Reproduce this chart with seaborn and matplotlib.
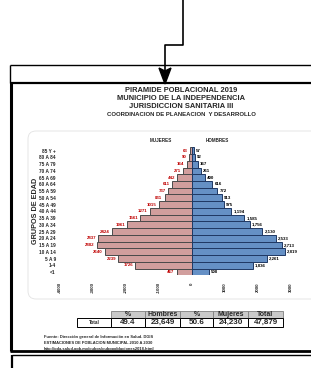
import matplotlib.pyplot as plt
import numpy as np
import pandas as pd
import seaborn as sns
from matplotlib.lines import Line2D
from matplotlib.patches import Rectangle, Polygon, FancyBboxPatch

# datos de la piramide (de arriba hacia abajo)
edades = ["85 Y +", "80 A 84", "75 A 79", "70 A 74", "65 A 69", "60 A 64", "55 A 59",
          "50 A 54", "45 A 49", "40 A 44", "35 A 39", "30 A 34", "25 A 29", "20 A 24",
          "15 A 19", "10 A 14", "5 A 9", "1-4", "<1"]
mujeres = [63, 90, 164, 271, 442, 611, 737, 831, 1015, 1271, 1561, 1961, 2424, 2837,
           2882, 2640, 2239, 1726, 467]
hombres = [57, 92, 167, 261, 400, 616, 772, 913, 975, 1194, 1585, 1756, 2130, 2533,
           2713, 2819, 2261, 1836, 508]
xticks = [-4000, -3000, -2000, -1000, 0, 1000, 2000, 3000]

# tabla resumen
tabla_cols = ["%", "Hombres", "%", "Mujeres", "Total"]
tabla_vals = ["49.4", "23,649", "50.6", "24,230", "47,879"]

titulos = ["PIRAMIDE POBLACIONAL 2019", "MUNICIPIO DE LA INDEPENDENCIA",
           "JURISDICCION SANITARIA III", "COORDINACION DE PLANEACION  Y DESARROLLO"]
notas = ["Fuente: Dirección general de Información en Salud. DGIS",
         "ESTIMACIONES DE POBLACION MUNICIPAL 2010 A 2030",
         "http://pda.salud.gob.mx/cubos/cubopoblaciones2018.html"]

sns.set_style("white")
plt.rcParams['font.family'] = ['Liberation Sans', 'DejaVu Sans']

W, H = 311, 368
fig = plt.figure(figsize=(W / 100, H / 100), dpi=100)
T = fig.dpi_scale_trans


def P(x, y):
    return (x / 100, (H - y) / 100)


def line(xs, ys, lw=1.0, color="black"):
    pts = [P(x, y) for x, y in zip(xs, ys)]
    fig.add_artist(Line2D([p[0] for p in pts], [p[1] for p in pts], lw=lw,
                          color=color, transform=T, solid_capstyle="butt"))


def text(x, y, s, **kw):
    fig.text(*P(x, y), s, transform=T, **kw)


# flecha y marco del diagrama
line([183, 183, 165, 165], [0, 45, 45, 72], lw=1.2)
fig.add_artist(Polygon([P(159, 68), P(165, 71), P(171, 68), P(165, 84)], closed=True,
                       color="black", transform=T))
line([10, 311], [65, 65], lw=1.0)
line([10, 10], [65, 83], lw=1.0)
line([10, 311], [83, 83], lw=1.6)
line([11, 11], [83, 351], lw=2.2)
line([10, 311], [351, 351], lw=2.0)
line([12, 311], [355, 355], lw=1.0)
line([12, 12], [355, 368], lw=1.6)

# titulos
for i, (t, fs) in enumerate(zip(titulos, [5.4, 5.4, 5.4, 4.3])):
    text(181, 90 + i * 8.3, t, ha="center", va="center", fontsize=fs, fontweight="bold")

# panel redondeado
fig.add_artist(FancyBboxPatch(P(28, 299), 3.2, 1.68, boxstyle="round,pad=0,rounding_size=0.08",
                              transform=T, facecolor="white", edgecolor="#E2E2E2", lw=0.6,
                              zorder=-1))

# piramide
df = pd.DataFrame({
    "edad": edades * 2,
    "valor": [-v for v in mujeres] + hombres,
    "sexo": ["MUJERES"] * len(edades) + ["HOMBRES"] * len(edades),
})
ax = fig.add_axes([60 / W, 1 - 275.4 / H, 264 / W, 128.1 / H])
ax.set_zorder(2)
sns.barplot(data=df, y="edad", x="valor", hue="sexo", order=edades, dodge=False, width=1,
            palette={"MUJERES": "#DA9694", "HOMBRES": "#558ED5"}, orient="h", ax=ax,
            legend=False, zorder=3)
for c, ec in zip(ax.containers, ["#4A4A4A", "#1F3864"]):
    for p in c.patches:
        p.set_edgecolor(ec)
        p.set_linewidth(0.7)

ax.bar_label(ax.containers[0], labels=[str(v) for v in mujeres], padding=1.5,
             fontsize=3.2, color="#C00000", fontweight="bold")
ax.bar_label(ax.containers[1], labels=[f"{v:,}" for v in hombres], padding=1.5,
             fontsize=3.2, color="black", fontweight="bold",
             bbox=dict(facecolor="white", edgecolor="none", pad=0.3))

ax.set_xlim(-4000, 4000)
ax.set_xticks(xticks)
ax.set_xticklabels([str(t) for t in xticks], rotation=90, fontsize=3.2, fontweight="bold",
                   va="top")
ax.tick_params(axis="y", labelsize=3.4, length=0, pad=3)
ax.tick_params(axis="x", length=0, pad=5)
for lab in ax.get_yticklabels():
    lab.set_fontweight("bold")
ax.set_xlabel("")
ax.set_ylabel("GRUPOS DE EDAD", fontsize=5.2, fontweight="bold", labelpad=2)
ax.yaxis.set_label_coords(-0.08, 0.5)
sns.despine(ax=ax, left=True, bottom=True)
ax.patch.set_alpha(0)

text(161, 140, "MUJERES", ha="center", va="center", fontsize=3.3, fontweight="bold")
text(217, 140, "HOMBRES", ha="center", va="center", fontsize=3.3, fontweight="bold")

# tabla
xs = [111, 145, 180, 213, 248, 283]
for i, (c, v) in enumerate(zip(tabla_cols, tabla_vals)):
    fig.add_artist(Rectangle(P(xs[i], 318), (xs[i + 1] - xs[i]) / 100, 0.07, transform=T,
                             facecolor="#C9C9C9", edgecolor="#7F7F7F", lw=0.6))
    fig.add_artist(Rectangle(P(xs[i], 327), (xs[i + 1] - xs[i]) / 100, 0.09, transform=T,
                             facecolor="white", edgecolor="black", lw=0.7))
    text((xs[i] + xs[i + 1]) / 2, 314.5, c, ha="center", va="center", fontsize=5.0,
         fontweight="bold")
    text((xs[i] + xs[i + 1]) / 2, 322.5, v, ha="center", va="center", fontsize=5.8,
         fontweight="bold")
fig.add_artist(Rectangle(P(77, 327), 0.34, 0.09, transform=T, facecolor="white",
                         edgecolor="black", lw=0.7))
text(94, 322.5, "Total", ha="center", va="center", fontsize=3.3, fontweight="bold")

# notas
for i, n in enumerate(notas):
    text(44, 337 + i * 6, n, ha="left", va="center", fontsize=2.9, fontweight="bold")

fig.savefig("out.png", dpi=100)
